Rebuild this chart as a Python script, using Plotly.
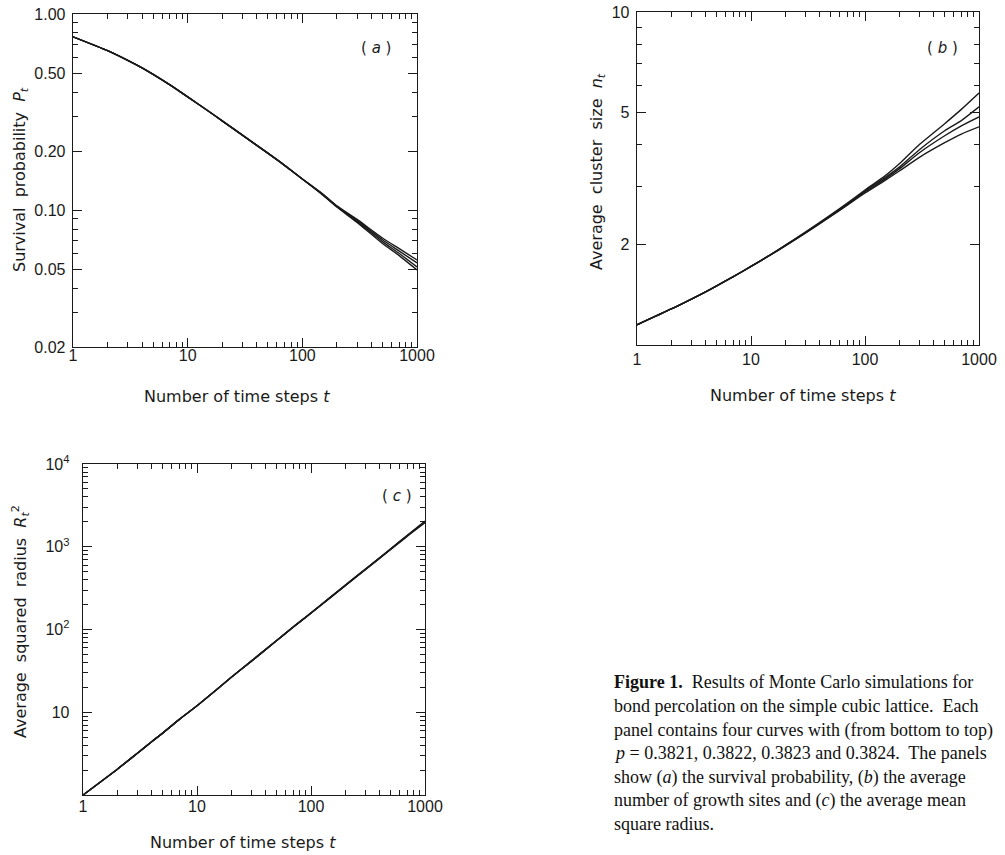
import plotly.graph_objects as go

W, H = 1005, 855

# ---------------- data ----------------
t = [1, 2, 3, 4, 5, 7, 10, 15, 20, 30, 50, 70, 100, 150, 200, 300, 500, 700, 1000]
p_values = ["0.3821", "0.3822", "0.3823", "0.3824"]

# (a) survival probability P_t, bottom to top
P_3821 = [0.765, 0.650, 0.580, 0.531, 0.492, 0.435, 0.378, 0.321, 0.285, 0.241, 0.195, 0.169, 0.144, 0.1195, 0.1035, 0.0865, 0.0675, 0.0585, 0.0494]
P_3822 = [0.765, 0.650, 0.580, 0.531, 0.492, 0.435, 0.378, 0.321, 0.285, 0.241, 0.195, 0.169, 0.144, 0.1200, 0.1040, 0.0875, 0.0690, 0.0600, 0.0512]
P_3823 = [0.765, 0.650, 0.580, 0.531, 0.492, 0.435, 0.378, 0.321, 0.285, 0.241, 0.195, 0.169, 0.144, 0.1205, 0.1045, 0.0885, 0.0705, 0.0617, 0.0537]
P_3824 = [0.765, 0.650, 0.580, 0.531, 0.492, 0.435, 0.378, 0.321, 0.285, 0.241, 0.195, 0.169, 0.144, 0.1210, 0.1050, 0.0895, 0.0720, 0.0635, 0.0556]

# (b) average cluster size n_t, bottom to top
n_3821 = [1.15, 1.283, 1.374, 1.445, 1.506, 1.605, 1.721, 1.868, 1.983, 2.166, 2.432, 2.630, 2.86, 3.12, 3.33, 3.66, 4.05, 4.30, 4.52]
n_3822 = [1.15, 1.283, 1.374, 1.445, 1.506, 1.605, 1.721, 1.870, 1.987, 2.172, 2.440, 2.640, 2.88, 3.15, 3.38, 3.78, 4.25, 4.55, 4.84]
n_3823 = [1.15, 1.283, 1.374, 1.445, 1.506, 1.605, 1.721, 1.871, 1.990, 2.178, 2.448, 2.652, 2.90, 3.18, 3.42, 3.86, 4.40, 4.72, 5.19]
n_3824 = [1.15, 1.283, 1.374, 1.445, 1.506, 1.605, 1.721, 1.873, 1.994, 2.184, 2.458, 2.666, 2.92, 3.22, 3.50, 4.00, 4.62, 5.10, 5.71]

# (c) average squared radius R_t^2, bottom to top
R_3821 = [1.0, 2.05, 3.2, 4.4, 5.6, 8.2, 12.0, 19.0, 26.5, 41.5, 73.5, 107, 157, 246, 338, 528, 925, 1345, 1960]
R_3822 = [1.0, 2.05, 3.2, 4.4, 5.6, 8.2, 12.0, 19.0, 26.5, 41.5, 73.5, 107, 158, 248, 340, 532, 932, 1355, 1990]
R_3823 = [1.0, 2.05, 3.2, 4.4, 5.6, 8.2, 12.0, 19.0, 26.5, 41.5, 73.5, 107, 158, 249, 342, 535, 938, 1365, 2010]
R_3824 = [1.0, 2.05, 3.2, 4.4, 5.6, 8.2, 12.0, 19.0, 26.5, 41.5, 73.5, 108, 159, 250, 344, 539, 945, 1380, 2040]

x_ticks = [1, 10, 100, 1000]
x_ticktext = ["1", "10", "100", "1000"]
x_minor = [2, 3, 4, 5, 6, 7, 8, 9, 20, 30, 40, 50, 60, 70, 80, 90, 200, 300, 400, 500, 600, 700, 800, 900]

ya_ticks = [0.02, 0.05, 0.1, 0.2, 0.5, 1.0]
ya_ticktext = ["0.02", "0.05", "0.10", "0.20", "0.50", "1.00"]
ya_minor = [0.03, 0.04, 0.06, 0.07, 0.08, 0.09, 0.3, 0.4, 0.6, 0.7, 0.8, 0.9]

yb_ticks = [2, 5, 10]
yb_ticktext = ["2", "5", "10"]
yb_minor = [3, 4, 6, 7, 8, 9]

yc_ticks = [10, 100, 1000, 10000]
yc_ticktext = ["10", "10<sup>2</sup>", "10<sup>3</sup>", "10<sup>4</sup>"]
yc_minor = [m * 10 ** k for k in range(4) for m in range(2, 10)]

caption_lines = [
    "<b>Figure 1.</b>  Results of Monte Carlo simulations for",
    "bond percolation on the simple cubic lattice.  Each",
    "panel contains four curves with (from bottom to top)",
    "<i>p</i> = 0.3821, 0.3822, 0.3823 and 0.3824.  The panels",
    "show (<i>a</i>) the survival probability, (<i>b</i>) the average",
    "number of growth sites and (<i>c</i>) the average mean",
    "square radius.",
]

# ---------------- figure ----------------
def px(x):
    return x / W

def py(y):
    return 1 - y / H

INK = "#1a1a1a"
TICKFONT = dict(family="Liberation Sans, Arial, sans-serif", size=16, color=INK)
TITLEFONT = dict(family="DejaVu Sans, sans-serif", size=16, color=INK)

fig = go.Figure()

panels = [
    ("x", "y", [P_3821, P_3822, P_3823, P_3824]),
    ("x2", "y2", [n_3821, n_3822, n_3823, n_3824]),
    ("x3", "y3", [R_3821, R_3822, R_3823, R_3824]),
]
for xa, ya, series in panels:
    for p, s in zip(p_values, series):
        fig.add_trace(go.Scatter(
            x=t, y=s, xaxis=xa, yaxis=ya, mode="lines",
            line=dict(color=INK, width=1.4, shape="spline", smoothing=0.6),
            name="p = " + p, showlegend=False, hoverinfo="skip",
        ))


def axis(domain, rng, tickvals, ticktext, minor, anchor, standoff):
    return dict(
        type="log", domain=domain, range=rng, anchor=anchor, automargin=False,
        showline=True, linecolor=INK, linewidth=1.3, mirror="ticks",
        ticks="inside", ticklen=9, tickwidth=1, tickcolor=INK,
        tickmode="array", tickvals=tickvals, ticktext=ticktext,
        tickfont=TICKFONT, ticklabelstandoff=standoff,
        minor=dict(ticks="inside", ticklen=5, tickwidth=1, tickcolor=INK,
                   tickmode="array", tickvals=minor, showgrid=False),
        showgrid=False, zeroline=False,
    )


fig.update_layout(
    width=W, height=H, margin=dict(l=0, r=0, t=0, b=0, pad=0),
    paper_bgcolor="white", plot_bgcolor="white", showlegend=False,
    hovermode=False,
    xaxis=axis([px(73), px(417)], [0, 3], x_ticks, x_ticktext, x_minor, "y", -7),
    yaxis=axis([py(347), py(14)], [-1.69897, 0], ya_ticks, ya_ticktext, ya_minor, "x", 3),
    xaxis2=axis([px(637), px(979)], [0, 3], x_ticks, x_ticktext, x_minor, "y2", -1),
    yaxis2=axis([py(345), py(12)], [0, 1], yb_ticks, yb_ticktext, yb_minor, "x2", 3),
    xaxis3=axis([px(83), px(425)], [0, 3], x_ticks, x_ticktext, x_minor, "y3", -4),
    yaxis3=axis([py(795), py(464)], [0, 4], yc_ticks, yc_ticktext, yc_minor, "x3", 9),
)

annotations = []

def ann(text, x, y, font, angle=0, xanchor="center"):
    annotations.append(dict(text=text, x=px(x), y=py(y), xref="paper", yref="paper",
                            showarrow=False, font=font, textangle=angle,
                            xanchor=xanchor, yanchor="middle"))

xtitle = "Number of time steps <i>t</i>"
ann(xtitle, 237, 397, TITLEFONT)
ann(xtitle, 803, 395, TITLEFONT)
ann(xtitle, 243, 842, TITLEFONT)
ann("Survival\u00a0 probability\u00a0 <i>P</i><sub><i>t</i></sub>", 20, 180, TITLEFONT, -90)
ann("Average\u00a0 cluster\u00a0 size\u00a0 <i>n</i><sub><i>t</i></sub>", 597, 172, TITLEFONT, -90)
ann("Average\u00a0 squared\u00a0 radius\u00a0 <i>R</i><sub><i>t</i></sub><sup>2</sup>", 20, 622, TITLEFONT, -90)

PLAB = dict(family="DejaVu Sans, sans-serif", size=15, color=INK)
ann("(\u00a0<i>a</i>\u00a0)", 376, 48, PLAB)
ann("(\u00a0<i>b</i>\u00a0)", 942, 48, PLAB)
ann("(\u00a0<i>c</i>\u00a0)", 397, 496, PLAB)

CAP = dict(family="Liberation Serif, Times New Roman, serif", size=18, color="#111")
cap_y = [682, 706, 730, 753, 777, 800, 824]
for line, y in zip(caption_lines, cap_y):
    ann(line, 612, y, CAP, xanchor="left")

fig.update_layout(annotations=annotations)

fig.write_html("out.html", config={"displayModeBar": False, "staticPlot": True},
               post_script="document.body.style.margin='0px';document.body.style.padding='0px';")
